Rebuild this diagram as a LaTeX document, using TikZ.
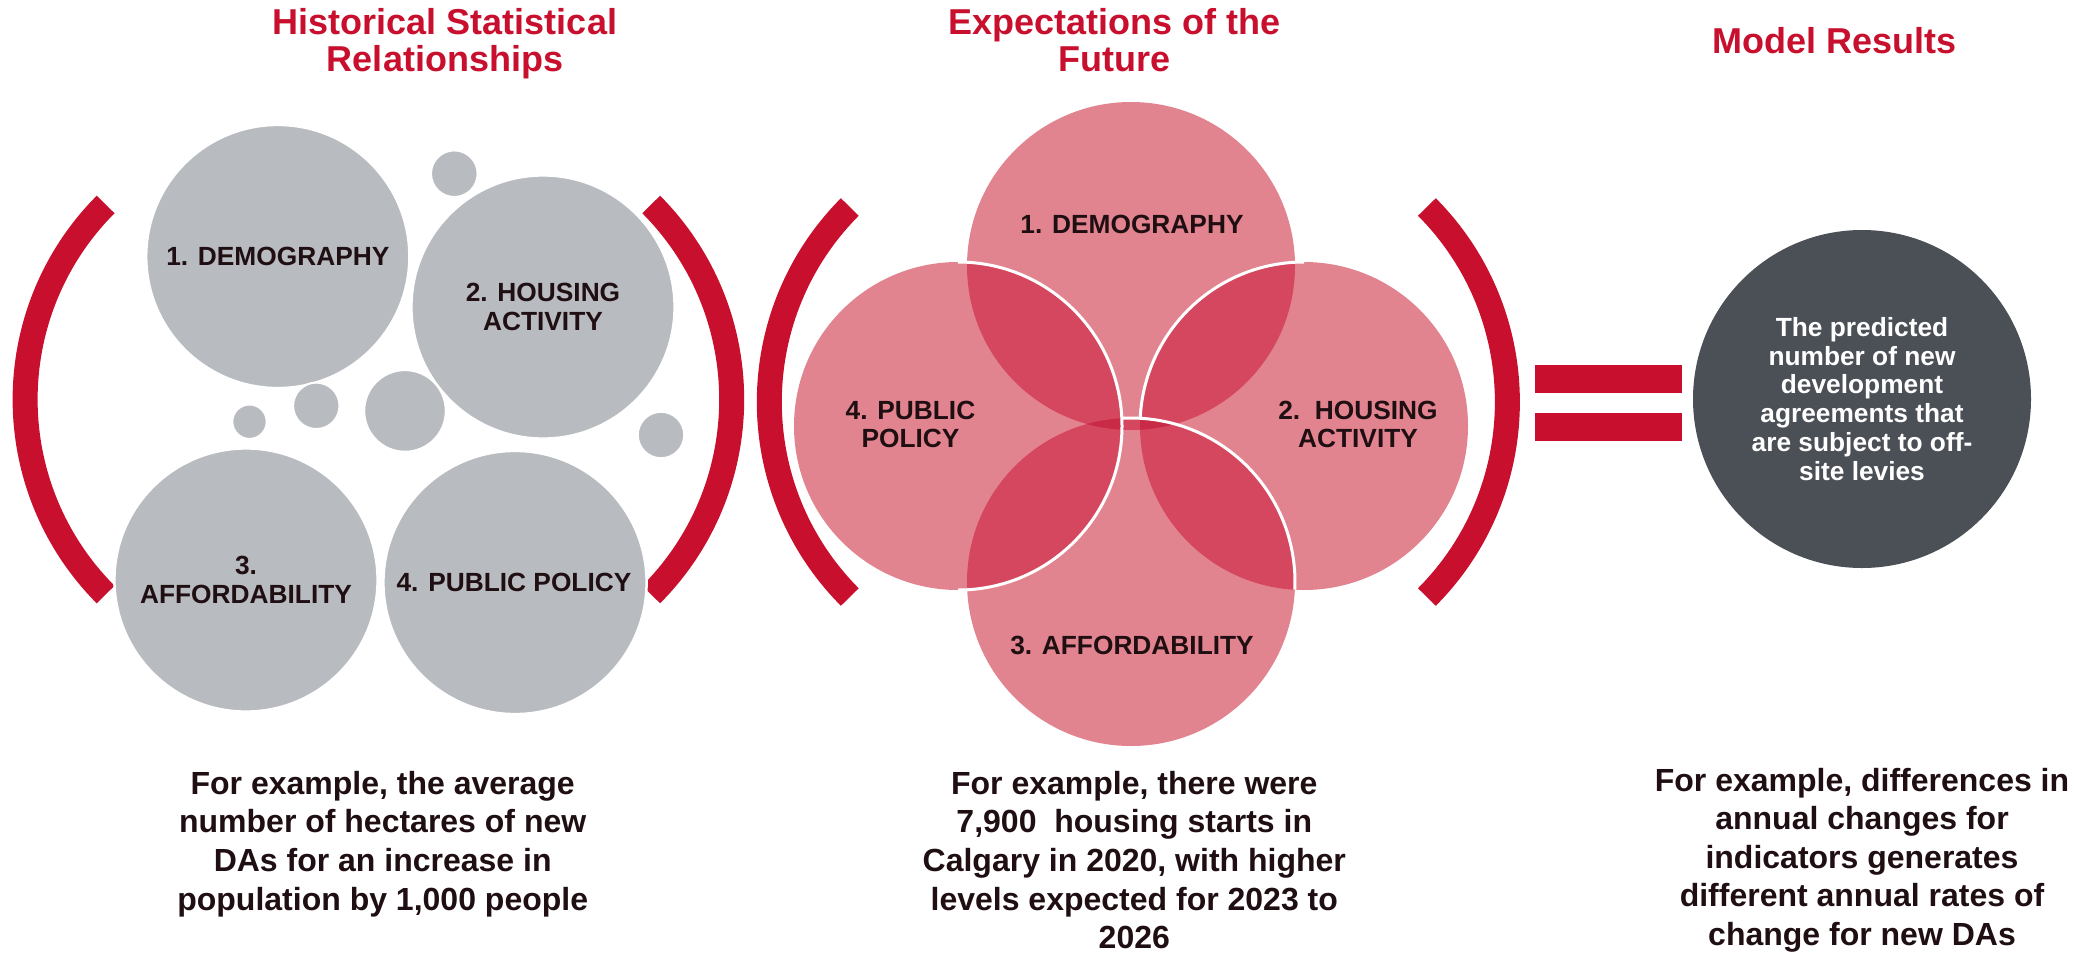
\documentclass[tikz,border=0pt]{standalone}
\usepackage{fontspec}
\setmainfont{Liberation Sans}
\usetikzlibrary{calc}
\definecolor{redc}{HTML}{C8102E}
\definecolor{grayc}{HTML}{B8BBBF}
\definecolor{darkc}{HTML}{4B4F56}
\definecolor{pkA}{HTML}{E2848F}
\definecolor{pkB}{HTML}{D4475E}
\definecolor{pkC}{HTML}{C92A45}
\definecolor{txt}{HTML}{1F0F12}
\begin{document}
\begin{tikzpicture}[x=1pt,y=-1pt,
  ttl/.style={text=redc, font=\fontsize{36}{40}\selectfont\bfseries, inner sep=0pt, anchor=base},
  lbl/.style={text=txt, font=\fontsize{26.3}{29}\selectfont\bfseries, inner sep=0pt, anchor=base},
  wlbl/.style={text=white, font=\fontsize{26.3}{29}\selectfont\bfseries, inner sep=0pt, anchor=base},
  btm/.style={text=txt, font=\fontsize{32}{38}\selectfont\bfseries, inner sep=0pt, anchor=base},
  bracket/.style={draw=redc, line width=25pt},
  gbig/.style={circle, fill=grayc, draw=white, line width=2.5pt, inner sep=0pt, outer sep=0pt, minimum size=263.2pt},
  gsmall/.style={circle, fill=grayc, draw=white, line width=2pt, inner sep=0pt, outer sep=0pt},
  wline/.style={draw=white, line width=3pt},
]
\useasboundingbox (0,0) rectangle (2074,954);

% ---------- titles ----------
\node[ttl] (t1a) at (445,34.3) {Historical Statistical};
\node[ttl] (t1b) at (445,71.7) {Relationships};
\node[ttl] (t2a) at (1114.3,34.3) {Expectations of the};
\node[ttl] (t2b) at (1114.3,71.7) {Future};
\node[ttl] (t3) at (1834.8,53.3) {Model Results};

% ---------- group 1 : brackets ----------
\coordinate (b1l) at (301.6,399.5);
\coordinate (b1r) at (455.2,399.5);
\draw[bracket] (b1l) ++(135.14:276.5) arc[start angle=135.14, end angle=224.86, radius=276.5];
\draw[bracket] (b1r) ++(-44.86:276.5) arc[start angle=-44.86, end angle=44.86, radius=276.5];

% ---------- group 1 : circles ----------
\node[gbig] (c1) at (277.8,256.5) {};
\node[gbig] (c2) at (543,307) {};
\node[gbig] (c3) at (246,580) {};
\node[gbig] (c4) at (515,582.5) {};
\node[gsmall, minimum size=46.6pt] (s1) at (454.3,173.7) {};
\node[gsmall, minimum size=34.4pt] (s2) at (249.5,421.7) {};
\node[gsmall, minimum size=46.4pt] (s3) at (316.3,405.8) {};
\node[gsmall, minimum size=81.6pt] (s4) at (405,410.9) {};
\node[gsmall, minimum size=46.4pt] (s5) at (661,435) {};

\node[lbl] (g1) at (277.8,265.7) {1. DEMOGRAPHY};
\node[lbl] (g2a) at (543,301.2) {2. HOUSING};
\node[lbl] (g2b) at (543,330.2) {ACTIVITY};
\node[lbl] (g3a) at (246,574.4) {3.};
\node[lbl] (g3b) at (246,603.2) {AFFORDABILITY};
\node[lbl] (g4) at (514,591.2) {4. PUBLIC POLICY};

% ---------- group 2 : brackets ----------
\coordinate (b2l) at (1045.8,402);
\coordinate (b2r) at (1230.9,402);
\draw[bracket] (b2l) ++(135.14:276.5) arc[start angle=135.14, end angle=224.86, radius=276.5];
\draw[bracket] (b2r) ++(-44.86:276.5) arc[start angle=-44.86, end angle=44.86, radius=276.5];

% ---------- group 2 : venn ----------
\coordinate (pT) at (1131,266);
\coordinate (pL) at (958,426);
\coordinate (pR) at (1304,426);
\coordinate (pB) at (1131,582);
\fill[pkA] (pT) circle[radius=164];
\fill[pkA] (pL) circle[radius=164];
\fill[pkA] (pR) circle[radius=164];
\fill[pkA] (pB) circle[radius=164];
\begin{scope}
  \clip (pT) circle[radius=164];
  \fill[pkB] (pL) circle[radius=164];
  \fill[pkB] (pR) circle[radius=164];
  \fill[pkB] (pB) circle[radius=164];
\end{scope}
\begin{scope}
  \clip (pB) circle[radius=164];
  \fill[pkB] (pL) circle[radius=164];
  \fill[pkB] (pR) circle[radius=164];
\end{scope}
\begin{scope}
  \clip (pT) circle[radius=164];
  \clip (pB) circle[radius=164];
  \fill[pkC] (pL) circle[radius=164];
  \fill[pkC] (pR) circle[radius=164];
\end{scope}
\draw[wline] (pL) ++(-90:164) arc[start angle=-90, end angle=90, radius=164];
\draw[wline] (pR) ++(270:164) arc[start angle=270, end angle=182.7, radius=164];
\draw[wline] (pB) ++(2.7:164) arc[start angle=2.7, end angle=-93.2, radius=164];

\node[lbl] (p1) at (1132,233) {1. DEMOGRAPHY};
\node[lbl] (p4a) at (910.5,419.5) {4. PUBLIC};
\node[lbl] (p4b) at (910.5,447.7) {POLICY};
\node[lbl] (p2a) at (1358,419.5) {2.\ \ HOUSING};
\node[lbl] (p2b) at (1358,447.7) {ACTIVITY};
\node[lbl] (p3) at (1132,654.4) {3. AFFORDABILITY};

% ---------- equals ----------
\fill[redc] (1535,365) rectangle (1682,393.3);
\fill[redc] (1535,412.7) rectangle (1682,441);

% ---------- result circle ----------
\node[circle, fill=darkc, minimum size=338pt, inner sep=0pt] (res) at (1862,399) {};
\node[wlbl] (r1) at (1862,336.2) {The predicted};
\node[wlbl] (r2) at (1862,365) {number of new};
\node[wlbl] (r3) at (1862,393.8) {development};
\node[wlbl] (r4) at (1862,422.6) {agreements that};
\node[wlbl] (r5) at (1862,451.4) {are subject to off-};
\node[wlbl] (r6) at (1862,480.2) {site levies};

% ---------- bottom texts ----------
\node[btm] (e1a) at (382.7,794) {For example, the average};
\node[btm] (e1b) at (382.7,832.7) {number of hectares of new};
\node[btm] (e1c) at (382.7,871.3) {DAs for an increase in};
\node[btm] (e1d) at (382.7,910) {population by 1,000 people};

\node[btm] (e2a) at (1134.3,794) {For example, there were};
\node[btm] (e2b) at (1134.3,832.7) {7,900\ \ housing starts in};
\node[btm] (e2c) at (1134.3,871.3) {Calgary in 2020, with higher};
\node[btm] (e2d) at (1134.3,910) {levels expected for 2023 to};
\node[btm] (e2e) at (1134.3,948.6) {2026};

\node[btm] (e3a) at (1862,791) {For example, differences in};
\node[btm] (e3b) at (1862,829.6) {annual changes for};
\node[btm] (e3c) at (1862,868.2) {indicators generates};
\node[btm] (e3d) at (1862,906.8) {different annual rates of};
\node[btm] (e3e) at (1862,945.4) {change for new DAs};
\end{tikzpicture}
\end{document}
